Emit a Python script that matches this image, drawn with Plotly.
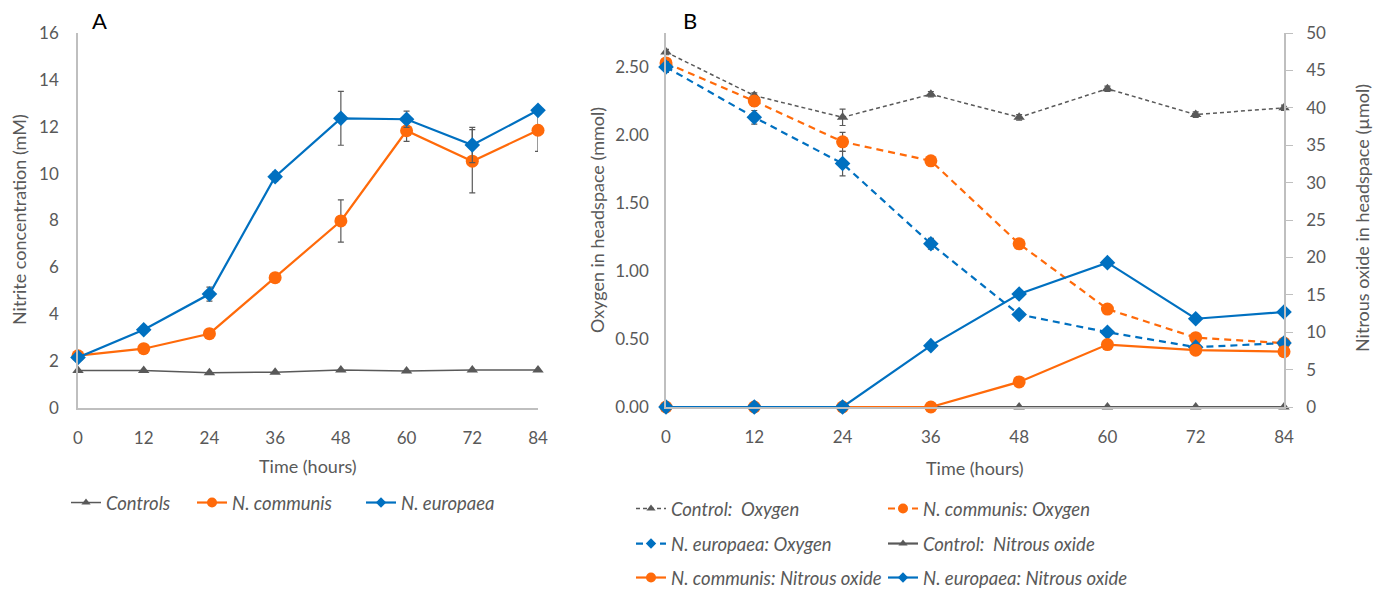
import plotly.graph_objects as go

# ---------- data ----------
hours = [0, 12, 24, 36, 48, 60, 72, 84]
hour_ticks = [0, 12, 24, 36, 48, 60, 72, 84]

# Panel A: nitrite concentration (mM)
controls_nitrite = [1.60, 1.60, 1.50, 1.53, 1.62, 1.58, 1.62, 1.62]
communis_nitrite = [2.23, 2.53, 3.17, 5.56, 7.98, 11.83, 10.53, 11.85]
communis_nitrite_err = [0.05, 0.08, 0.20, 0.05, 0.90, 0.45, 1.35, 0.90]
europaea_nitrite = [2.16, 3.34, 4.86, 9.87, 12.36, 12.32, 11.22, 12.70]
europaea_nitrite_err = [0.05, 0.15, 0.30, 0.20, 1.15, 0.35, 0.75, 0.10]

# Panel B: oxygen (mmol)
control_o2 = [2.61, 2.29, 2.13, 2.30, 2.13, 2.34, 2.15, 2.20]
control_o2_err = [0.02, 0.02, 0.06, 0.02, 0.02, 0.02, 0.02, 0.02]
communis_o2 = [2.53, 2.25, 1.95, 1.81, 1.20, 0.72, 0.51, 0.47]
communis_o2_err = [0.03, 0.04, 0.07, 0.02, 0.02, 0.03, 0.02, 0.02]
europaea_o2 = [2.50, 2.13, 1.79, 1.20, 0.68, 0.55, 0.44, 0.47]
europaea_o2_err = [0.04, 0.05, 0.09, 0.04, 0.02, 0.02, 0.02, 0.02]

# Panel B: nitrous oxide (µmol)
control_n2o = [0, 0, 0, 0, 0, 0, 0, 0]
communis_n2o = [0, 0, 0, 0, 3.35, 8.35, 7.6, 7.4]
europaea_n2o = [0, 0, 0, 8.2, 15.1, 19.3, 11.8, 12.7]

# ---------- styles ----------
GRAY = "#595959"
ORANGE = "#FF6A0A"
BLUE = "#0070C0"
AXIS = "#BFBFBF"
FONT = "Lato"
W, H = 1380, 590


def px(x):
    return x / W


def py(y):
    return 1 - y / H


def err(vals):
    return dict(type="data", array=vals, visible=True, color=GRAY, thickness=1.2, width=3)


MARK = {"gray": dict(symbol="triangle-up", size=10, color=GRAY),
        "orange": dict(symbol="circle", size=13, color=ORANGE),
        "blue": dict(symbol="diamond", size=12, color=BLUE)}
LEGMARK = {"gray": dict(symbol="triangle-up", size=8, color=GRAY),
           "orange": dict(symbol="circle", size=10, color=ORANGE),
           "blue": dict(symbol="diamond", size=8, color=BLUE)}
COL = {"gray": GRAY, "orange": ORANGE, "blue": BLUE}

fig = go.Figure()


def add(x, y, name, key, xa, ya, leg, dash=None, width=2.2, e=None):
    line = dict(color=COL[key], width=width)
    if dash:
        line["dash"] = dash
    fig.add_trace(go.Scatter(x=x, y=y, name=name, mode="lines+markers", line=line,
                             marker=MARK[key], error_y=err(e) if e else None,
                             xaxis=xa, yaxis=ya, showlegend=False, cliponaxis=False))
    # legend entry (small symbols, like the reference)
    fig.add_trace(go.Scatter(x=[None], y=[None], name=name, mode="lines+markers", line=line,
                             marker=LEGMARK[key], xaxis=xa, yaxis=ya, legend=leg,
                             showlegend=True, hoverinfo="skip"))


# Panel A
add(hours, controls_nitrite, "Controls", "gray", "x", "y", "legend", width=1.5)
add(hours, communis_nitrite, "N. communis", "orange", "x", "y", "legend5", e=communis_nitrite_err)
add(hours, europaea_nitrite, "N. europaea", "blue", "x", "y", "legend6", e=europaea_nitrite_err)

# Panel B
add(hours, control_o2, "Control:  Oxygen", "gray", "x2", "y2", "legend2", dash="4px,3px", width=1.5, e=control_o2_err)
add(hours, communis_o2, "N. communis: Oxygen", "orange", "x2", "y2", "legend2", dash="7px,5px", e=communis_o2_err)
add(hours, europaea_o2, "N. europaea: Oxygen", "blue", "x2", "y2", "legend3", dash="7px,5px", e=europaea_o2_err)
add(hours, control_n2o, "Control:  Nitrous oxide", "gray", "x2", "y3", "legend3")
add(hours, communis_n2o, "N. communis: Nitrous oxide", "orange", "x2", "y3", "legend4")
add(hours, europaea_n2o, "N. europaea: Nitrous oxide", "blue", "x2", "y3", "legend4")

tickfont = dict(family=FONT, size=17, color=GRAY)
common_x = dict(tickvals=hour_ticks, range=[0, 84], showgrid=False, zeroline=False,
                showline=True, linecolor=AXIS, linewidth=1.5, ticks="",
                tickfont=tickfont, ticklabelstandoff=14, fixedrange=True, automargin=False)

legend_common = dict(orientation="h", font=dict(family=FONT, size=18.5, color=GRAY, style="italic"),
                     bgcolor="rgba(0,0,0,0)", xanchor="left", yanchor="middle",
                     itemwidth=30, traceorder="normal")

fig.update_layout(
    width=W, height=H,
    margin=dict(l=0, r=0, t=0, b=0, pad=0, autoexpand=False),
    paper_bgcolor="white", plot_bgcolor="white",
    font=dict(family=FONT, color=GRAY),
    xaxis=dict(domain=[px(78), px(538)], anchor="y", **common_x),
    yaxis=dict(domain=[py(408), py(33)], anchor="x", range=[0, 16], dtick=2,
               showgrid=False, zeroline=False, showline=True, linecolor=AXIS, linewidth=1.5,
               ticks="", tickfont=tickfont, ticklabelstandoff=14, automargin=False),
    xaxis2=dict(domain=[px(666), px(1284)], anchor="y2", **common_x),
    yaxis2=dict(domain=[py(407), py(33)], anchor="x2", range=[0, 2.75],
                tickvals=[0, 0.5, 1.0, 1.5, 2.0, 2.5], tickformat=".2f",
                showgrid=False, zeroline=False, showline=True, linecolor=AXIS, linewidth=1.5,
                ticks="", tickfont=tickfont, ticklabelstandoff=12, automargin=False),
    yaxis3=dict(overlaying="y2", side="right", anchor="x2", range=[0, 50], dtick=5,
                showgrid=False, zeroline=False, showline=True, linecolor=AXIS, linewidth=1.5,
                ticks="outside", ticklen=7, tickcolor=AXIS, tickfont=tickfont,
                ticklabelstandoff=10, automargin=False),
    legend=dict(x=px(66), y=py(503), **legend_common),
    legend5=dict(x=px(192), y=py(503), **legend_common),
    legend6=dict(x=px(361), y=py(503), **legend_common),
    legend2=dict(x=px(631), y=py(509), entrywidth=207, entrywidthmode="pixels", **legend_common),
    legend3=dict(x=px(631), y=py(544), entrywidth=207, entrywidthmode="pixels", **legend_common),
    legend4=dict(x=px(631), y=py(578), entrywidth=207, entrywidthmode="pixels", **legend_common),
)

ann_font = dict(family=FONT, size=18, color=GRAY)


def ann(text, x, y, angle=0, font=ann_font):
    fig.add_annotation(text=text, x=px(x), y=py(y), xref="paper", yref="paper",
                       xanchor="center", yanchor="middle", textangle=angle,
                       showarrow=False, font=font)


ann("Nitrite concentration (mM)", 19, 220, -90)
ann("Time (hours)", 308, 466)
ann("Oxygen in headspace (mmol)", 597, 220, -90)
ann("Nitrous oxide in headspace (µmol)", 1362, 218, -90)
ann("Time (hours)", 975, 468)
ann("A", 99, 21, 0, dict(family=FONT, size=22, color="black"))
ann("B", 690, 21, 0, dict(family=FONT, size=22, color="black"))

fig.write_html("out.html", post_script="document.body.style.margin='0px';",
               config={"displayModeBar": False})
